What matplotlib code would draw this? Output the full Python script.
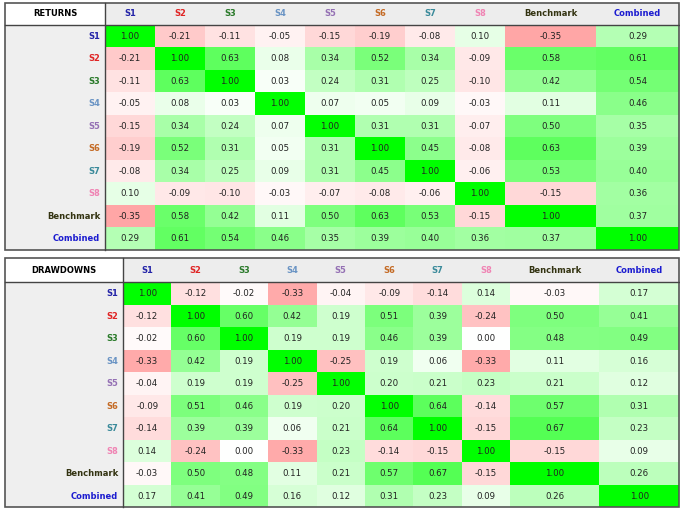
import matplotlib.pyplot as plt
import numpy as np
from matplotlib.colors import LinearSegmentedColormap
from matplotlib.patches import Rectangle

plt.rcParams['font.family'] = 'DejaVu Sans'

# Data
names = ["S1", "S2", "S3", "S4", "S5", "S6", "S7", "S8", "Benchmark", "Combined"]
name_colors = ["#2424a8", "#e02424", "#2a7a2a", "#6a94c4", "#9470b4",
               "#c46a24", "#3a8a9a", "#f084b4", "#333311", "#1c1cd0"]

returns = np.array([
    [1.00, -0.21, -0.11, -0.05, -0.15, -0.19, -0.08, 0.10, -0.35, 0.29],
    [-0.21, 1.00, 0.63, 0.08, 0.34, 0.52, 0.34, -0.09, 0.58, 0.61],
    [-0.11, 0.63, 1.00, 0.03, 0.24, 0.31, 0.25, -0.10, 0.42, 0.54],
    [-0.05, 0.08, 0.03, 1.00, 0.07, 0.05, 0.09, -0.03, 0.11, 0.46],
    [-0.15, 0.34, 0.24, 0.07, 1.00, 0.31, 0.31, -0.07, 0.50, 0.35],
    [-0.19, 0.52, 0.31, 0.05, 0.31, 1.00, 0.45, -0.08, 0.63, 0.39],
    [-0.08, 0.34, 0.25, 0.09, 0.31, 0.45, 1.00, -0.06, 0.53, 0.40],
    [0.10, -0.09, -0.10, -0.03, -0.07, -0.08, -0.06, 1.00, -0.15, 0.36],
    [-0.35, 0.58, 0.42, 0.11, 0.50, 0.63, 0.53, -0.15, 1.00, 0.37],
    [0.29, 0.61, 0.54, 0.46, 0.35, 0.39, 0.40, 0.36, 0.37, 1.00],
])

drawdowns = np.array([
    [1.00, -0.12, -0.02, -0.33, -0.04, -0.09, -0.14, 0.14, -0.03, 0.17],
    [-0.12, 1.00, 0.60, 0.42, 0.19, 0.51, 0.39, -0.24, 0.50, 0.41],
    [-0.02, 0.60, 1.00, 0.19, 0.19, 0.46, 0.39, 0.00, 0.48, 0.49],
    [-0.33, 0.42, 0.19, 1.00, -0.25, 0.19, 0.06, -0.33, 0.11, 0.16],
    [-0.04, 0.19, 0.19, -0.25, 1.00, 0.20, 0.21, 0.23, 0.21, 0.12],
    [-0.09, 0.51, 0.46, 0.19, 0.20, 1.00, 0.64, -0.14, 0.57, 0.31],
    [-0.14, 0.39, 0.39, 0.06, 0.21, 0.64, 1.00, -0.15, 0.67, 0.23],
    [0.14, -0.24, 0.00, -0.33, 0.23, -0.14, -0.15, 1.00, -0.15, 0.09],
    [-0.03, 0.50, 0.48, 0.11, 0.21, 0.57, 0.67, -0.15, 1.00, 0.26],
    [0.17, 0.41, 0.49, 0.16, 0.12, 0.31, 0.23, 0.09, 0.26, 1.00],
])

cmap = LinearSegmentedColormap.from_list("rwg", ["#ff0000", "#ffffff", "#00ff00"])

fig = plt.figure(figsize=(6.8, 5.11), dpi=100)
ax = fig.add_axes([0, 0, 1, 1])
ax.set_xlim(0, 680)
ax.set_ylim(511, 0)
ax.axis('off')


def draw_table(title, mat, left, top, label_w, s_w, bench_w, comb_w, head_h, row_h):
    x_edges = np.concatenate([[left + label_w],
                              left + label_w + s_w * np.arange(1, 9),
                              [left + label_w + 8 * s_w + bench_w,
                               left + label_w + 8 * s_w + bench_w + comb_w]])
    y_edges = top + head_h + row_h * np.arange(len(names) + 1)
    right = x_edges[-1]
    bottom = y_edges[-1]

    # backgrounds
    ax.add_patch(Rectangle((left, top), label_w, head_h, facecolor='white', lw=0))
    ax.add_patch(Rectangle((left + label_w, top), right - left - label_w, head_h,
                           facecolor='#ededed', lw=0))
    ax.add_patch(Rectangle((left, top + head_h), label_w, bottom - top - head_h,
                           facecolor='#efefef', lw=0))

    ax.pcolormesh(x_edges, y_edges, mat, cmap=cmap, vmin=-1, vmax=1)

    xc = (x_edges[:-1] + x_edges[1:]) / 2
    yc = (y_edges[:-1] + y_edges[1:]) / 2
    for i in range(len(names)):
        for j in range(len(names)):
            ax.text(xc[j], yc[i], f"{mat[i, j]:.2f}", ha='center', va='center',
                    fontsize=6.2, color='#222222')
    for k, (nm, c) in enumerate(zip(names, name_colors)):
        ax.text(xc[k], top + head_h / 2, nm, ha='center', va='center',
                fontsize=6, fontweight='bold', color=c)
        ax.text(left + label_w - 5, yc[k], nm, ha='right', va='center',
                fontsize=6, fontweight='bold', color=c)
    ax.text(left + label_w / 2, top + head_h / 2, title, ha='center', va='center',
            fontsize=6, fontweight='bold', color='black')

    # borders
    ax.add_patch(Rectangle((left, top), right - left, bottom - top,
                           fill=False, edgecolor='#555555', lw=1.2))
    ax.plot([left + label_w, left + label_w], [top, bottom], color='#444444', lw=1.0)
    ax.plot([left, right], [top + head_h, top + head_h], color='#444444', lw=1.0)


draw_table("RETURNS", returns, 5, 3, 100, 50, 91, 83, 22, 22.5)
draw_table("DRAWDOWNS", drawdowns, 5, 258, 118, 48.4, 89, 80, 24.5, 22.5)

fig.savefig("out.png", dpi=100)
